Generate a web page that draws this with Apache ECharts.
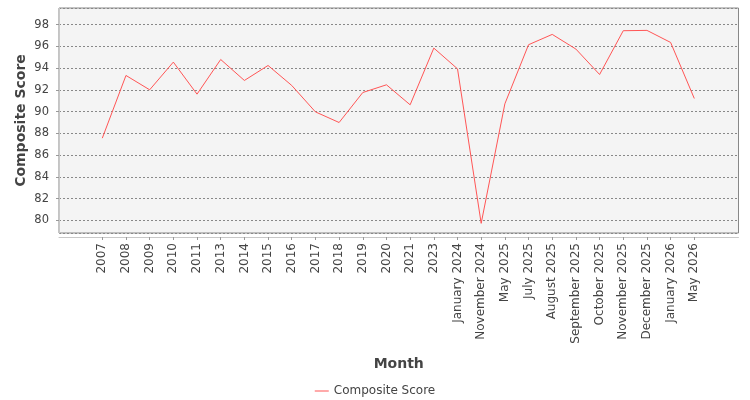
<!DOCTYPE html>
<html>
<head>
<meta charset="utf-8">
<script src="https://cdn.jsdelivr.net/npm/echarts@6/dist/echarts.min.js"></script>
<style>html,body{margin:0;padding:0;background:#fff;}#c{width:750px;height:400px;}</style>
</head>
<body>
<div id="c"></div>
<script>
const categories = ['2007','2008','2009','2010','2011','2013','2014','2015','2016','2017','2018','2019','2020','2021','2023','January 2024','November 2024','May 2025','July 2025','August 2025','September 2025','October 2025','November 2025','December 2025','January 2026','May 2026'];
const compositeScore = [87.56,93.33,92.01,94.56,91.61,94.8,92.87,94.25,92.41,89.98,89.0,91.76,92.47,90.63,95.85,93.94,79.72,90.72,96.16,97.11,95.76,93.42,97.45,97.48,96.37,91.21];
const seriesName = 'Composite Score';
const yMin = 78.83, yMax = 99.54;

const font = 'DejaVu Sans';
const chart = echarts.init(document.getElementById('c'), null, {renderer: 'canvas'});
chart.setOption({
  animation: false,
  textStyle: {fontFamily: font},
  grid: [
    {left: 59, right: 11.5, top: 8, bottom: 167, show: true, backgroundColor: '#f4f4f4', borderColor: '#888', borderWidth: 1, containLabel: false},
    {left: 102.3, right: 55.7, top: 8, bottom: 167, containLabel: false}
  ],
  xAxis: [
    {gridIndex: 0, type: 'value', min: 0, max: 1, offset: 4,
      axisLine: {show: true, lineStyle: {color: '#c8c8c8'}},
      axisTick: {show: false}, axisLabel: {show: false}, splitLine: {show: false},
      name: 'Month', nameLocation: 'middle', nameGap: 120, nameMoveOverlap: false,
      nameTextStyle: {fontFamily: font, fontSize: 14, fontWeight: 'bold', color: '#444'}},
    {gridIndex: 1, type: 'category', data: categories, boundaryGap: false, offset: 4,
      axisLine: {show: false},
      axisTick: {show: true, length: 3, interval: 0, lineStyle: {color: '#999'}},
      axisLabel: {rotate: 90, interval: 0, margin: 6, fontFamily: font, fontSize: 12, color: '#444'},
      splitLine: {show: false}}
  ],
  yAxis: [
    {gridIndex: 0, type: 'value', min: yMin, max: yMax, splitNumber: 10, offset: 4,
      axisLine: {show: true, lineStyle: {color: '#c8c8c8'}},
      axisTick: {show: true, length: 3, lineStyle: {color: '#999'}},
      axisLabel: {showMinLabel: false, showMaxLabel: false, margin: 6, fontFamily: font, fontSize: 11.5, color: '#444'},
      splitLine: {show: true, lineStyle: {color: '#888', type: [2, 2], width: 1}},
      name: 'Composite Score', nameLocation: 'middle', nameGap: 27, nameMoveOverlap: false,
      nameTextStyle: {fontFamily: font, fontSize: 14, fontWeight: 'bold', color: '#444'}},
    {gridIndex: 1, type: 'value', min: yMin, max: yMax, show: false, splitLine: {show: false}}
  ],
  legend: {
    left: 'center', top: 380, itemWidth: 14, itemHeight: 14, itemGap: 10,
    textStyle: {fontFamily: font, fontSize: 12, color: '#444', padding: [0, 0, 0, 0]},
    data: [{name: seriesName, icon: 'path://M0,0 L14,0 L14,1 L0,1 Z'}]
  },
  series: [{
    name: seriesName, type: 'line', xAxisIndex: 1, yAxisIndex: 1,
    data: compositeScore, symbol: 'none', showSymbol: false,
    lineStyle: {color: '#ff5555', width: 1}, itemStyle: {color: '#ff5555'}
  }]
});
</script>
</body>
</html>
